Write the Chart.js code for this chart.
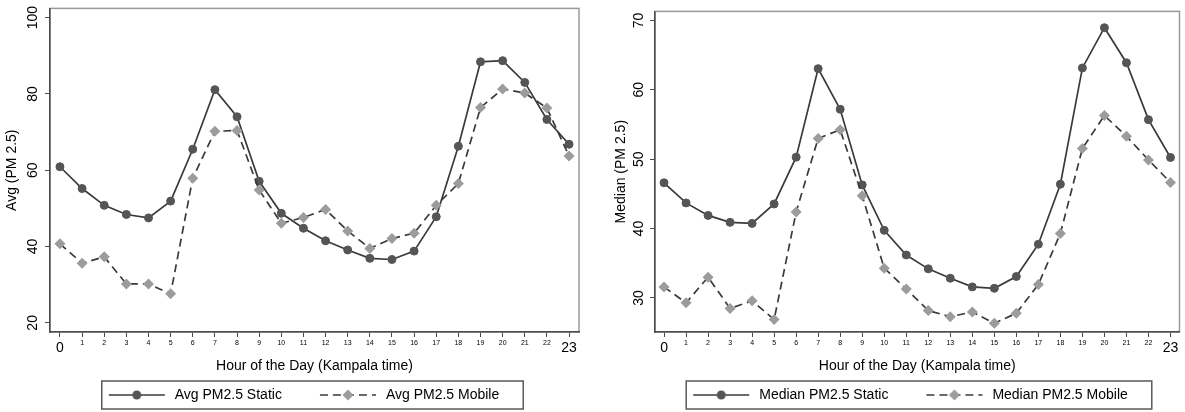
<!DOCTYPE html>
<html>
<head>
<meta charset="utf-8">
<script src="https://cdn.jsdelivr.net/npm/chart.js@4.4.1/dist/chart.umd.min.js"></script>
<style>
    html, body { margin: 0; padding: 0; background: #fff; }
    .wrap { display: flex; width: 1185px; height: 412px; }
    canvas { display: block; }
</style>
</head>
<body>
<div class="wrap">
    <canvas id="avgChart" width="592" height="412"></canvas>
    <canvas id="medianChart" width="593" height="412"></canvas>
</div>
<script>
// hourly PM2.5 profile, static vs mobile monitors
var hours = [0, 1, 2, 3, 4, 5, 6, 7, 8, 9, 10, 11, 12, 13, 14, 15, 16, 17, 18, 19, 20, 21, 22, 23];
var edgeHours = [0, 23];

var avgStatic = [60.9, 55.2, 50.8, 48.4, 47.5, 51.9, 65.5, 81.1, 74.0, 57.1, 48.7, 44.8,
                 41.5, 39.1, 36.9, 36.6, 38.8, 47.8, 66.3, 88.4, 88.7, 83.0, 73.3, 66.8];
var avgMobile = [40.7, 35.6, 37.3, 30.2, 30.2, 27.6, 57.9, 70.2, 70.4, 54.8, 46.1, 47.6,
                 49.7, 44.1, 39.5, 42.1, 43.5, 50.8, 56.5, 76.4, 81.3, 80.2, 76.3, 63.7];
var medianStatic = [46.6, 43.7, 41.9, 40.9, 40.75, 43.55, 50.3, 63.05, 57.2, 46.3, 39.75, 36.2,
                    34.2, 32.85, 31.6, 31.4, 33.1, 37.75, 46.4, 63.15, 68.95, 63.9, 55.7, 50.25];
var medianMobile = [31.6, 29.3, 33.0, 28.5, 29.6, 26.9, 42.4, 53.0, 54.25, 44.75, 34.3, 31.3,
                    28.2, 27.3, 28.0, 26.35, 27.8, 31.95, 39.3, 51.55, 56.3, 53.3, 49.9, 46.65];

var avgTicks = [20, 40, 60, 80, 100];
var medianTicks = [30, 40, 50, 60, 70];

var LINE_DARK = '#3a3a3a';
var STATIC_POINT = '#555555';
var MOBILE_POINT = '#9c9c9c';
var AXIS = '#4a4a4a';
var DASH = [8, 5];

Chart.defaults.font.family = '"Liberation Sans", Arial, Helvetica, sans-serif';
Chart.defaults.color = '#000';

// little line+marker picture used as the legend symbol
function legendSample(dashed, marker) {
    var c = document.createElement('canvas');
    c.width = 88;
    c.height = 14;
    var g = c.getContext('2d');
    g.strokeStyle = LINE_DARK;
    g.lineWidth = 1.7;
    g.setLineDash(dashed ? DASH : []);
    g.beginPath();
    g.moveTo(29, 7);
    g.lineTo(85, 7);
    g.stroke();
    g.setLineDash([]);
    g.beginPath();
    if (marker === 'circle') {
        g.fillStyle = STATIC_POINT;
        g.arc(57, 7, 4.5, 0, Math.PI * 2);
    } else {
        g.fillStyle = MOBILE_POINT;
        g.moveTo(51.5, 7);
        g.lineTo(57, 1.5);
        g.lineTo(62.5, 7);
        g.lineTo(57, 12.5);
        g.closePath();
    }
    g.fill();
    return c;
}

// grey box around the plot region
var plotFrame = {
    id: 'plotFrame',
    beforeDraw: function (chart) {
        var a = chart.chartArea;
        var ctx = chart.ctx;
        ctx.save();
        ctx.strokeStyle = '#9a9a9a';
        ctx.lineWidth = 1.5;
        ctx.strokeRect(a.left, a.top, a.right - a.left, a.bottom - a.top);
        ctx.restore();
    }
};

// outline around the legend row
var legendFrame = {
    id: 'legendFrame',
    afterDraw: function (chart) {
        var boxes = chart.legend.legendHitBoxes;
        if (!boxes || !boxes.length) return;
        var first = boxes[0], last = boxes[boxes.length - 1];
        var left = first.left + 22;
        var right = last.left + last.width + 24;
        var ctx = chart.ctx;
        ctx.save();
        ctx.strokeStyle = '#5a5a5a';
        ctx.lineWidth = 1.5;
        ctx.strokeRect(left, first.top - 7, right - left, first.height + 14);
        ctx.restore();
    }
};

function points(values) {
    return hours.map(function (h, i) { return {x: h, y: values[i]}; });
}

function makeChart(id, o) {
    var ctx = document.getElementById(id).getContext('2d');
    var solid = legendSample(false, 'circle');
    var dashed = legendSample(true, 'diamond');

    return new Chart(ctx, {
        type: 'line',
        data: {
            datasets: [{
                label: o.mobileLabel,
                data: points(o.mobile),
                borderColor: LINE_DARK,
                borderWidth: 1.7,
                borderDash: DASH,
                pointStyle: 'rectRot',
                pointRadius: 5.5,
                pointBackgroundColor: MOBILE_POINT,
                pointBorderColor: MOBILE_POINT,
                pointBorderWidth: 0,
                tension: 0,
                fill: false
            }, {
                label: o.staticLabel,
                data: points(o.static),
                borderColor: LINE_DARK,
                borderWidth: 1.7,
                pointStyle: 'circle',
                pointRadius: 4,
                pointBackgroundColor: STATIC_POINT,
                pointBorderColor: STATIC_POINT,
                pointBorderWidth: 1,
                tension: 0,
                fill: false
            }]
        },
        options: {
            responsive: false,
            animation: false,
            layout: {
                padding: {left: o.padLeft, right: o.padRight, top: 8, bottom: 0}
            },
            scales: {
                x: {
                    type: 'linear',
                    min: o.xMin,
                    max: o.xMax,
                    afterBuildTicks: function (axis) {
                        axis.ticks = hours.map(function (h) { return {value: h}; });
                    },
                    afterFit: function (axis) { axis.height = 47; },
                    ticks: {
                        autoSkip: false,
                        minRotation: 0,
                        maxRotation: 0,
                        padding: 2,
                        color: '#000',
                        font: function (c) {
                            if (c.tick && edgeHours.indexOf(c.tick.value) >= 0) {
                                return {size: 14, lineHeight: 1.3};
                            }
                            return {size: 7, lineHeight: 1.2};
                        },
                        callback: function (v) { return String(v); }
                    },
                    grid: {drawOnChartArea: false, drawTicks: true, tickLength: 5, color: AXIS, lineWidth: 1},
                    border: {display: true, color: AXIS, width: 1.5},
                    title: {
                        display: true,
                        text: 'Hour of the Day (Kampala time)',
                        color: '#000',
                        font: {size: 14},
                        padding: {top: 0, bottom: 4}
                    }
                },
                y: {
                    min: o.yMin,
                    max: o.yMax,
                    afterBuildTicks: function (axis) {
                        axis.ticks = o.yTicks.map(function (v) { return {value: v}; });
                    },
                    afterFit: function (axis) { axis.width = o.yWidth; },
                    ticks: {
                        autoSkip: false,
                        minRotation: 90,
                        maxRotation: 90,
                        crossAlign: 'center',
                        padding: o.tickPad,
                        color: '#000',
                        font: {size: 14}
                    },
                    grid: {drawOnChartArea: false, drawTicks: true, tickLength: 5, color: AXIS, lineWidth: 1},
                    border: {display: true, color: AXIS, width: 1.5},
                    title: {
                        display: true,
                        text: o.yTitle,
                        color: '#000',
                        font: {size: 14},
                        padding: {top: 4, bottom: 0}
                    }
                }
            },
            plugins: {
                tooltip: {enabled: false},
                legend: {
                    position: 'bottom',
                    labels: {
                        usePointStyle: true,
                        pointStyleWidth: 88,
                        padding: 9,
                        color: '#000',
                        font: {size: 14},
                        generateLabels: function () {
                            return [
                                {text: o.staticLabel, pointStyle: solid, fontColor: '#000', lineWidth: 0, hidden: false, datasetIndex: 1},
                                {text: o.mobileLabel, pointStyle: dashed, fontColor: '#000', lineWidth: 0, hidden: false, datasetIndex: 0}
                            ];
                        }
                    }
                }
            }
        },
        plugins: [plotFrame, legendFrame]
    });
}

makeChart('avgChart', {
    static: avgStatic,
    mobile: avgMobile,
    staticLabel: 'Avg PM2.5 Static',
    mobileLabel: 'Avg PM2.5 Mobile',
    yTitle: 'Avg (PM 2.5)',
    yTicks: avgTicks,
    yMin: 17.6,
    yMax: 102.4,
    xMin: -0.45,
    xMax: 23.45,
    padLeft: 0,
    padRight: 13,
    yWidth: 50,
    tickPad: 0
});

makeChart('medianChart', {
    static: medianStatic,
    mobile: medianMobile,
    staticLabel: 'Median PM2.5 Static',
    mobileLabel: 'Median PM2.5 Mobile',
    yTitle: 'Median (PM 2.5)',
    yTicks: medianTicks,
    yMin: 25.1,
    yMax: 71.3,
    xMin: -0.41,
    xMax: 23.41,
    padLeft: 17,
    padRight: 2,
    yWidth: 46,
    tickPad: 3
});
</script>
</body>
</html>
